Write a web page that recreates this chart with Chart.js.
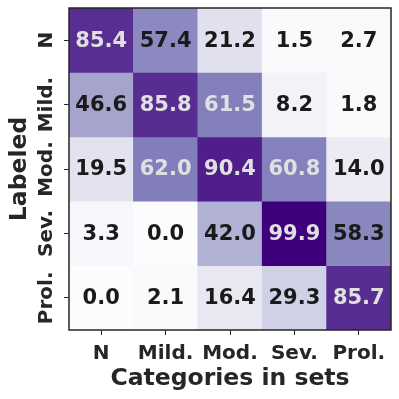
<!DOCTYPE html>
<html lang="en">
<head>
    <meta charset="UTF-8">
    <title>Confusion matrix</title>
    <style>
        html, body { margin: 0; padding: 0; background: #ffffff; }
        #myChart { width: 399px !important; height: 399px !important; display: block; }
    </style>
    <script src="https://cdn.jsdelivr.net/npm/chart.js"></script>
</head>
<body>
    <canvas id="myChart" width="399" height="399"></canvas>
    <script>
        // categories (columns = predicted, rows = labeled)
        var colLabels = ['N', 'Mild.', 'Mod.', 'Sev.', 'Prol.'];
        var rowLabels = ['N', 'Mild.', 'Mod.', 'Sev.', 'Prol.'];

        // percentages per row
        var rowN    = [85.4, 57.4, 21.2, 1.5, 2.7];
        var rowMild = [46.6, 85.8, 61.5, 8.2, 1.8];
        var rowMod  = [19.5, 62.0, 90.4, 60.8, 14.0];
        var rowSev  = [3.3, 0.0, 42.0, 99.9, 58.3];
        var rowProl = [0.0, 2.1, 16.4, 29.3, 85.7];
        var matrix = [rowN, rowMild, rowMod, rowSev, rowProl];

        // matplotlib "Purples"
        var purples = ['#fcfbfd', '#efedf5', '#dadaeb', '#bcbddc', '#9e9ac8', '#807dba', '#6a51a3', '#54278f', '#3f007d'];

        function hexToRgb(h) {
            return [parseInt(h.substr(1, 2), 16), parseInt(h.substr(3, 2), 16), parseInt(h.substr(5, 2), 16)];
        }

        function purpleColor(v) {
            var t = Math.max(0, Math.min(1, v / 100)) * (purples.length - 1);
            var i = Math.min(Math.floor(t), purples.length - 2);
            var f = t - i;
            var a = hexToRgb(purples[i]), b = hexToRgb(purples[i + 1]);
            var c = a.map(function (x, k) { return Math.round(x + (b[k] - x) * f); });
            return 'rgb(' + c.join(',') + ')';
        }

        var font = 'DejaVu Sans';
        var dark = '#262626';

        var datasets = matrix.map(function (row, r) {
            return {
                label: rowLabels[r],
                data: row.map(function () { return [r, r + 1]; }),
                values: row,
                backgroundColor: row.map(purpleColor),
                borderWidth: 0,
                barPercentage: 1.0,
                categoryPercentage: 1.0,
                grouped: false
            };
        });

        // cell text, rotated row labels, frame
        var cellText = {
            id: 'cellText',
            afterDatasetsDraw: function (chart) {
                var ctx = chart.ctx;
                ctx.save();
                ctx.font = 'bold 21px "' + font + '"';
                ctx.textAlign = 'center';
                ctx.textBaseline = 'middle';
                chart.data.datasets.forEach(function (ds, i) {
                    chart.getDatasetMeta(i).data.forEach(function (bar, j) {
                        var v = ds.values[j];
                        var cy = (bar.y + bar.base) / 2;
                        ctx.fillStyle = v > 60 ? '#e0e0e0' : '#1a1a1a';
                        ctx.fillText(v.toFixed(1), bar.x, cy + 1);
                    });
                });

                var ys = chart.scales.y;
                ctx.font = 'bold 20px "' + font + '"';
                ctx.fillStyle = dark;
                rowLabels.forEach(function (l, i) {
                    ctx.save();
                    ctx.translate(ys.right - 22, ys.getPixelForValue(i + 0.5));
                    ctx.rotate(-Math.PI / 2);
                    ctx.fillText(l, 0, 0);
                    ctx.restore();
                });

                var a = chart.chartArea;
                ctx.strokeStyle = dark;
                ctx.lineWidth = 1.5;
                ctx.strokeRect(a.left, a.top, a.right - a.left, a.bottom - a.top);
                ctx.restore();
            }
        };

        var ctx = document.getElementById('myChart').getContext('2d');
        var myChart = new Chart(ctx, {
            type: 'bar',
            data: { labels: colLabels, datasets: datasets },
            options: {
                responsive: false,
                animation: false,
                layout: { padding: { top: 8, right: 8, left: 0, bottom: 0 } },
                plugins: { legend: { display: false }, tooltip: { enabled: false } },
                scales: {
                    x: {
                        grid: { display: true, drawOnChartArea: false, offset: false, tickLength: 5, color: dark, tickWidth: 1 },
                        border: { display: false },
                        ticks: { color: dark, font: { family: font, size: 20, weight: 'bold' }, padding: 7, maxRotation: 0 },
                        title: { display: true, text: 'Categories in sets', color: dark, font: { family: font, size: 23.5, weight: 'bold' }, padding: { top: 0, bottom: 6 } },
                        afterFit: function (s) { s.height = 69; }
                    },
                    y: {
                        type: 'linear',
                        min: 0,
                        max: 5,
                        reverse: true,
                        afterBuildTicks: function (s) {
                            s.ticks = rowLabels.map(function (l, i) { return { value: i + 0.5 }; });
                        },
                        grid: { display: true, drawOnChartArea: false, tickLength: 5, color: dark, tickWidth: 1 },
                        border: { display: false },
                        ticks: { display: false },
                        title: { display: true, text: 'Labeled', color: dark, font: { family: font, size: 23.5, weight: 'bold' }, padding: { top: 6, bottom: 0 } },
                        afterFit: function (s) { s.width = 69; }
                    }
                }
            },
            plugins: [cellText]
        });
    </script>
</body>
</html>
